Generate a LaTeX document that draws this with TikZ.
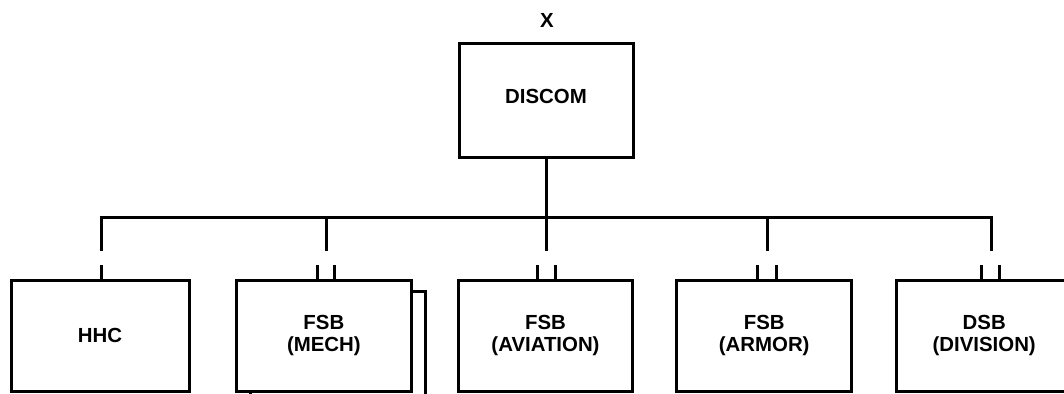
\documentclass[tikz,border=0pt]{standalone}
\usepackage{fontspec}
\setmainfont{Liberation Sans}
\begin{document}
\begin{tikzpicture}[x=1pt,y=-1pt,line width=3pt,
  box/.style={draw, fill=white, rectangle, minimum height=111pt, align=center,
    font=\fontsize{20.4}{21.5}\selectfont\bfseries, inner sep=0pt, outer sep=0pt},
  lbl/.style={font=\fontsize{20.4}{21.5}\selectfont\bfseries, inner sep=0pt},
  wire/.style={draw, line cap=butt, line join=miter}]
\useasboundingbox (0,0) rectangle (1064,393);
\clip (0,0) rectangle (1064,393);
% top
\node[lbl] (x) at (547,20.5) {X};
\node[box, minimum width=174pt, minimum height=113pt, text depth=9pt] (discom) at (546,100.5) {DISCOM};
% children
\node[box, minimum width=178pt] (hhc) at (100,335.5) {HHC};
\node[box, minimum width=175.7pt] (mechshadow) at (337.85,346.5) {};
\node[box, minimum width=175.7pt] (mech) at (323.85,335.5) {FSB\\(MECH)};
\node[box, minimum width=174.4pt] (avn) at (545.5,335.5) {FSB\\(AVIATION)};
\node[box, minimum width=175pt] (armor) at (764.2,335.5) {FSB\\(ARMOR)};
\node[box, minimum width=175pt] (dsb) at (984.2,335.5) {DSB\\(DIVISION)};
% bus
\coordinate (j) at (546.5,217);
\coordinate (e1) at (101,251);
\coordinate (e2) at (326,251);
\coordinate (e3) at (546.7,251);
\coordinate (e4) at (767.3,251);
\coordinate (e5) at (991,251);
\draw[wire] (discom.south -| j) -- (j);
\draw[wire] (e1) -- (101,217) -- (991,217) -- (e5);
\draw[wire] (e2 |- j) -- (e2);
\draw[wire] (e3 |- j) -- (e3);
\draw[wire] (e4 |- j) -- (e4);
% stubs into boxes
\draw[wire] (hhc.north -| e1) -- ++(0,-15);
\draw[wire] (mech.north -| 317.7,0) -- ++(0,-15);
\draw[wire] (mech.north -| 334.3,0) -- ++(0,-15);
\draw[wire] (avn.north -| 537.5,0) -- ++(0,-15);
\draw[wire] (avn.north -| 555.3,0) -- ++(0,-15);
\draw[wire] (armor.north -| 757.5,0) -- ++(0,-15);
\draw[wire] (armor.north -| 776,0) -- ++(0,-15);
\draw[wire] (dsb.north -| 981.8,0) -- ++(0,-15);
\draw[wire] (dsb.north -| 999.8,0) -- ++(0,-15);
\end{tikzpicture}
\end{document}
